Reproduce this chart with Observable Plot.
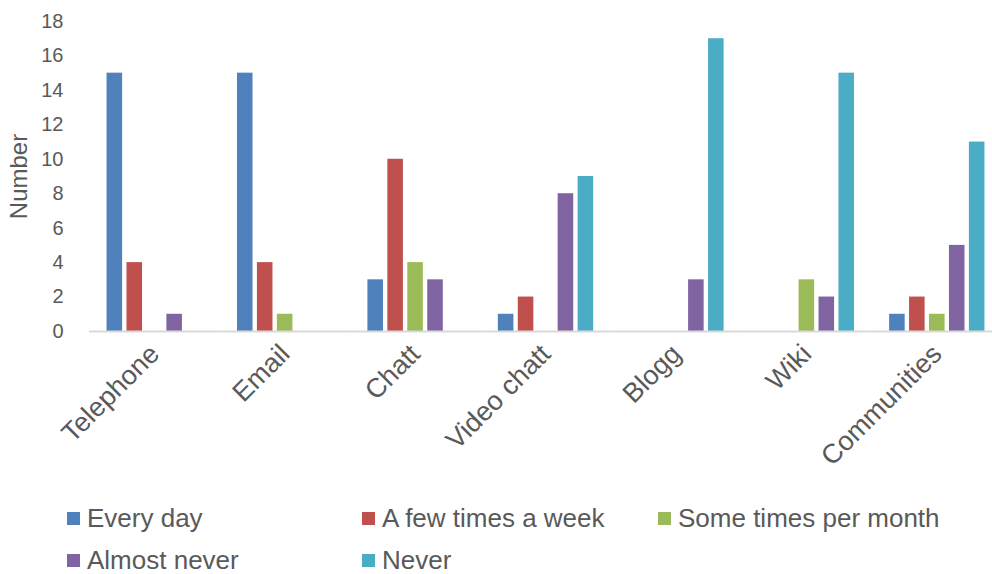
<!DOCTYPE html>
<html>
<head>
<meta charset="utf-8">
<script src="https://cdn.jsdelivr.net/npm/d3@7"></script>
<script src="https://cdn.jsdelivr.net/npm/@observablehq/plot@0.6"></script>
<style>
  html, body { margin: 0; padding: 0; background: #fff; }
  body { width: 992px; height: 574px; overflow: hidden; font-family: "Liberation Sans", Arial, sans-serif; }
  #legend { display: grid; grid-template-columns: 295px 296px 300px; grid-template-rows: 44px 40px; padding-left: 67px; padding-top: 4px; }
  .item { display: flex; align-items: center; font-size: 26px; line-height: 1; color: #595959; white-space: nowrap; }
  .sw { width: 13px; height: 13px; margin-right: 7px; flex: none; }
</style>
</head>
<body>
<div id="chart"></div>
<div id="legend"></div>
<script>
const categories = ["Telephone", "Email", "Chatt", "Video chatt", "Blogg", "Wiki", "Communities"];
const series = ["Every day", "A few times a week", "Some times per month", "Almost never", "Never"];
const colors = ["#4f81bd", "#c0504d", "#9bbb59", "#8064a2", "#4bacc6"];
const everyDay = [15, 15, 3, 1, 0, 0, 1];
const fewTimesWeek = [4, 4, 10, 2, 0, 0, 2];
const someTimesMonth = [0, 1, 4, 0, 0, 3, 1];
const almostNever = [1, 0, 3, 8, 3, 2, 5];
const never = [0, 0, 0, 9, 17, 15, 11];
const yTicks = [0, 2, 4, 6, 8, 10, 12, 14, 16, 18];

const valuesBySeries = [everyDay, fewTimesWeek, someTimesMonth, almostNever, never];
const data = [];
categories.forEach((c, i) => {
  series.forEach((s, j) => data.push({category: c, series: s, value: valuesBySeries[j][i]}));
});

const chart = Plot.plot({
  width: 992,
  height: 492,
  marginLeft: 89,
  marginRight: -10,
  marginTop: 21,
  marginBottom: 161,
  style: {fontFamily: "Liberation Sans, Arial, sans-serif", color: "#595959", background: "#fff"},
  fx: {domain: categories, padding: 0, round: false},
  x: {domain: series, paddingInner: 0.22, paddingOuter: 0.88, round: false, axis: null},
  y: {domain: [0, 18], ticks: yTicks},
  color: {domain: series, range: colors},
  marks: [
    Plot.axisY({ticks: yTicks, tickSize: 0, tickPadding: 26, fontSize: 20, label: null, fill: "#595959"}),
    Plot.axisY({ticks: [], tickSize: 0, fontSize: 24, label: "Number", labelAnchor: "center", labelArrow: false, labelOffset: 80, fill: "#595959"}),
    Plot.axisFx({anchor: "bottom", tickRotate: -45, tickSize: 0, tickPadding: 18, fontSize: 27, label: null, fill: "#595959"}),
    Plot.barY(data, {fx: "category", x: "series", y: "value", fill: "series"}),
    Plot.ruleY([0], {stroke: "#d9d9d9", strokeWidth: 2})
  ]
});
document.getElementById("chart").appendChild(chart);

const legend = d3.select("#legend");
series.forEach((s, j) => {
  const it = legend.append("div").attr("class", "item");
  it.append("div").attr("class", "sw").style("background", colors[j]);
  it.append("span").text(s);
});
</script>
</body>
</html>
